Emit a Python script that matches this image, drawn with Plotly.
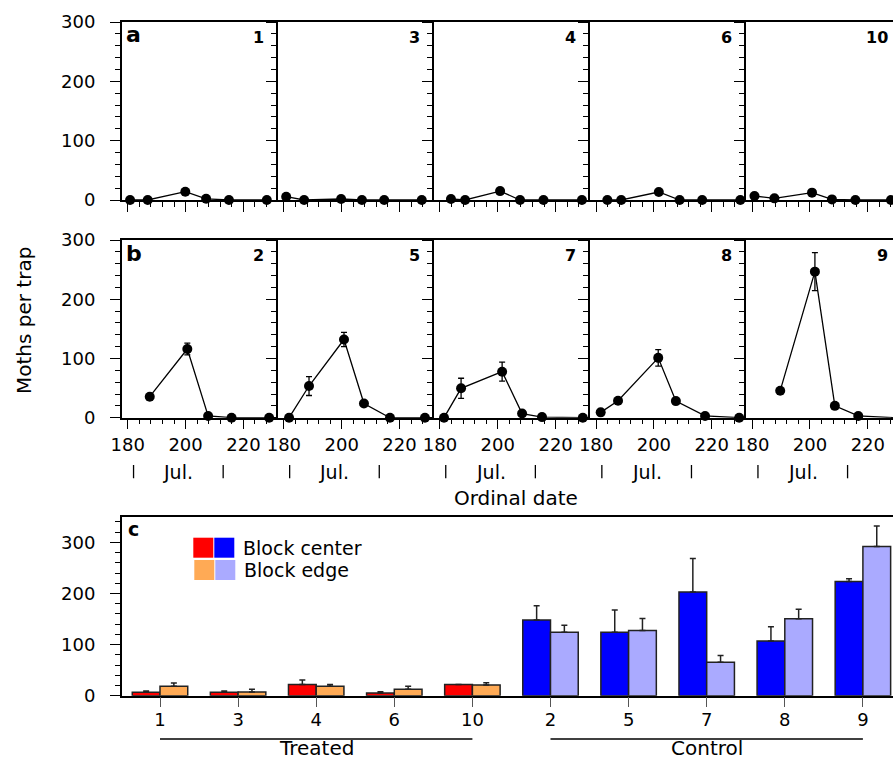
import plotly.graph_objects as go

W, H = 893, 762
FONT = "DejaVu Sans"

# ---------------- data ----------------
# Panel a (treated traps): ordinal dates and moths per trap
traps_a = ["1", "3", "4", "6", "10"]
days_a = {
    "1": [180.8, 186.9, 199.9, 207.1, 215.0, 228.1],
    "3": [180.8, 187.0, 199.8, 207.0, 214.7, 227.7],
    "4": [183.8, 188.7, 200.8, 207.7, 215.8, 229.1],
    "6": [183.9, 188.7, 201.7, 208.9, 216.7, 229.9],
    "10": [180.8, 187.7, 200.7, 207.6, 215.7, 228.0],
}
vals_a = {
    "1": [0, 0, 14, 2, 0, 0],
    "3": [5.6, 0, 1.7, 0, 0, 0],
    "4": [1.7, 0, 15, 0, 0, 0],
    "6": [0, 0, 13.5, 0, 0, 0],
    "10": [6.7, 2.8, 12.4, 1, 0, 0],
}

# Panel b (control traps)
traps_b = ["2", "5", "7", "8", "9"]
days_b = {
    "2": [187.6, 200.6, 207.8, 215.9, 228.9],
    "5": [181.8, 188.7, 200.8, 207.7, 216.7, 228.8],
    "7": [181.4, 187.3, 201.5, 208.4, 215.3, 229.4],
    "8": [181.6, 187.6, 201.5, 207.6, 217.7, 229.5],
    "9": [189.7, 201.7, 208.6, 216.7, 229.0],
}
vals_b = {
    "2": [35.5, 116, 3, 0, 0],
    "5": [0, 53.5, 132, 24, 0, 0],
    "7": [0, 49.6, 77.7, 7, 1, 0],
    "8": [9, 28.7, 101, 28, 3, 0],
    "9": [45.6, 246.6, 20, 3, 0],
}
errs_b = {
    "2": [0, 10, 0, 0, 0],
    "5": [0, 16, 12, 0, 0, 0],
    "7": [0, 17, 16, 0, 0, 0],
    "8": [0, 0, 14, 0, 0, 0],
    "9": [0, 32, 0, 0, 0],
}

# Panel c: season totals per trap
cats_c = ["1", "3", "4", "6", "10", "2", "5", "7", "8", "9"]
groups_c = ["Treated"] * 5 + ["Control"] * 5
center_c = [6.6, 6.6, 22, 5.2, 22, 148, 124, 203, 107, 223.5]
center_err_c = [2.4, 2.4, 8.7, 2.6, 0, 28, 43.5, 65.6, 27.7, 5.3]
edge_c = [18.4, 7.2, 18.4, 12.5, 21, 124, 127.5, 65.4, 150.3, 292]
edge_err_c = [6.6, 5.3, 3.6, 5.9, 4.5, 14, 23.5, 13, 18.7, 40]

month_label = "Jul."
month_bounds = [182, 213]

# ---------------- styling / layout helpers ----------------
COL_CENTER = {"Treated": "#FF0000", "Control": "#0000FF"}
COL_EDGE = {"Treated": "#FFAA55", "Control": "#AAAAFF"}


def X(px):
    return px / W


def Y(py):
    return 1 - py / H


P_LEFT = 121.7
P_W = 156.1
PX_PER_DAY = 2.891
X0 = 177.9

rows = [
    dict(traps=traps_a, days=days_a, vals=vals_a, errs=None, top=22, bottom=200, letter="a"),
    dict(traps=traps_b, days=days_b, vals=vals_b, errs=errs_b, top=240, bottom=417.7, letter="b"),
]

fig = go.Figure()
layout = dict(
    width=W, height=H, autosize=False,
    margin=dict(l=0, r=0, t=0, b=0, pad=0, autoexpand=False),
    paper_bgcolor="white", plot_bgcolor="white",
    showlegend=False,
    font=dict(family=FONT, size=18, color="black"),
    barmode="group", bargap=0.29, bargroupgap=0,
)
annotations = []
shapes = []

idx = 0
for r, row in enumerate(rows):
    for k, t in enumerate(row["traps"]):
        idx += 1
        xa = "x" if idx == 1 else f"x{idx}"
        ya = "y" if idx == 1 else f"y{idx}"
        left = P_LEFT + P_W * k
        right = left + P_W
        right_vis = min(right, W)
        x1 = X0 + (right_vis - left) / PX_PER_DAY
        err = row["errs"][t] if row["errs"] else None
        fig.add_trace(go.Scatter(
            x=row["days"][t], y=row["vals"][t], xaxis=xa, yaxis=ya,
            mode="lines+markers", cliponaxis=False,
            line=dict(color="black", width=1.3),
            marker=dict(color="black", size=10),
            error_y=(dict(type="data", array=err, visible=True, color="black",
                          thickness=1.3, width=3) if err else None),
        ))
        layout[f"xaxis{idx}"] = dict(
            domain=[X(left), X(right_vis)], range=[X0, x1], anchor=ya,
            showline=True, linecolor="black", linewidth=1.5, mirror=True,
            showgrid=False, zeroline=False,
            ticks="outside", ticklen=10, tickwidth=1, tickcolor="black",
            tick0=180, dtick=20,
            minor=dict(ticks="outside", ticklen=5, dtick=4, tickwidth=1, tickcolor="black"),
            showticklabels=(r == 1), tickfont=dict(size=18), ticklabelstandoff=0,
        )
        layout[f"yaxis{idx}"] = dict(
            domain=[Y(row["bottom"]), Y(row["top"])], range=[0, 300], anchor=xa,
            showline=True, linecolor="black", linewidth=1.5, mirror=False,
            showgrid=False, zeroline=False,
            ticks="outside", ticklen=10, tickwidth=1, tickcolor="black",
            dtick=100, minor=dict(ticks="outside", ticklen=5, dtick=20, tickwidth=1, tickcolor="black"),
            showticklabels=(k == 0), tickfont=dict(size=18), ticklabelstandoff=11,
        )
        # trap number
        annotations.append(dict(
            text=f"<b>{t}</b>", xref="paper", yref="paper",
            x=X(min(right - 12, W - 1)), y=Y(row["top"] + 15.5), xanchor="right", yanchor="middle",
            showarrow=False, font=dict(size=16),
        ))
        if r == 1:
            for b in month_bounds:
                shapes.append(dict(type="line", xref=xa, yref="paper", x0=b, x1=b,
                                   y0=Y(465), y1=Y(478.3), line=dict(color="black", width=1.3)))
            annotations.append(dict(
                text=month_label, xref=xa, yref="paper", x=sum(month_bounds) / 2,
                y=Y(472.3), xanchor="center", yanchor="middle", showarrow=False,
                font=dict(size=19),
            ))
    annotations.append(dict(
        text=f"<b>{row['letter']}</b>", xref="paper", yref="paper",
        x=X(124), y=Y(row["top"] + 13), xanchor="left", yanchor="middle",
        showarrow=False, font=dict(size=22),
    ))

# ---------------- panel c ----------------
idx += 1
xc = f"x{idx}"
yc = f"y{idx}"
xpos = list(range(len(cats_c)))
fig.add_trace(go.Bar(
    x=xpos, y=center_c, xaxis=xc, yaxis=yc, offsetgroup="center",
    marker=dict(color=[COL_CENTER[g] for g in groups_c], line=dict(color="#222222", width=1.5)),
    error_y=dict(type="data", symmetric=False, array=center_err_c,
                 arrayminus=[0] * len(cats_c), color="#222222", thickness=1.5, width=3),
))
fig.add_trace(go.Bar(
    x=xpos, y=edge_c, xaxis=xc, yaxis=yc, offsetgroup="edge",
    marker=dict(color=[COL_EDGE[g] for g in groups_c], line=dict(color="#222222", width=1.5)),
    error_y=dict(type="data", symmetric=False, array=edge_err_c,
                 arrayminus=[0] * len(cats_c), color="#222222", thickness=1.5, width=3),
))
C_TOP, C_BOT = 517.3, 695.7
C_SP = 78.1
C_C0 = 160.0
layout[f"xaxis{idx}"] = dict(
    domain=[X(P_LEFT), 1.0], range=[(P_LEFT - C_C0) / C_SP, (W - C_C0) / C_SP], anchor=yc,
    showline=True, linecolor="black", linewidth=1.5, mirror=True,
    showgrid=False, zeroline=False,
    tickmode="array", tickvals=xpos, ticktext=cats_c,
    ticks="outside", ticklen=10, tickwidth=1, tickcolor="#555555",
    tickfont=dict(size=18), ticklabelstandoff=-3,
)
layout[f"yaxis{idx}"] = dict(
    domain=[Y(C_BOT), Y(C_TOP)], range=[0, 349], anchor=xc,
    showline=True, linecolor="black", linewidth=1.5, mirror=False,
    showgrid=False, zeroline=False,
    ticks="outside", ticklen=10, tickwidth=1, tickcolor="black",
    dtick=100, minor=dict(ticks="outside", ticklen=5, dtick=20, tickwidth=1, tickcolor="black"),
    tickfont=dict(size=18), ticklabelstandoff=11,
)
annotations.append(dict(
    text="<b>c</b>", xref="paper", yref="paper", x=X(126), y=Y(529),
    xanchor="left", yanchor="middle", showarrow=False, font=dict(size=19),
))

# group labels with lines
for g in ["Treated", "Control"]:
    members = [i for i, gg in enumerate(groups_c) if gg == g]
    shapes.append(dict(type="line", xref=xc, yref="paper", x0=members[0], x1=members[-1],
                       y0=Y(739), y1=Y(739), line=dict(color="black", width=1.3)))
    annotations.append(dict(
        text=g, xref=xc, yref="paper", x=(members[0] + members[-1]) / 2, y=Y(762),
        xanchor="center", yanchor="bottom", showarrow=False, font=dict(size=20),
    ))

# legend (manual)
leg = [
    ("Block center", COL_CENTER, 537.7, 557.7, 193.3),
    ("Block edge", COL_EDGE, 560.0, 580.0, 194.3),
]
for label, cols, y0, y1, x0 in leg:
    shapes.append(dict(type="rect", xref="paper", yref="paper", x0=X(x0), x1=X(x0 + 20),
                       y0=Y(y1), y1=Y(y0), fillcolor=cols["Treated"], line=dict(width=0)))
    shapes.append(dict(type="rect", xref="paper", yref="paper", x0=X(x0 + 21), x1=X(x0 + 41),
                       y0=Y(y1), y1=Y(y0), fillcolor=cols["Control"], line=dict(width=0)))
    annotations.append(dict(
        text=label, xref="paper", yref="paper", x=X(x0 + 48), y=Y((y0 + y1) / 2),
        xanchor="left", yanchor="middle", showarrow=False, font=dict(size=19),
    ))

# axis titles
annotations.append(dict(
    text="Moths per trap", xref="paper", yref="paper", x=X(24), y=Y(321),
    xanchor="center", yanchor="middle", textangle=-90, showarrow=False, font=dict(size=20),
))
annotations.append(dict(
    text="Ordinal date", xref="paper", yref="paper", x=X(515.8), y=Y(497.5),
    xanchor="center", yanchor="middle", showarrow=False, font=dict(size=20),
))

layout["annotations"] = annotations
layout["shapes"] = shapes
fig.update_layout(**layout)
fig.write_html(
    "out.html",
    config={"displayModeBar": False},
    post_script="document.body.style.margin='0';document.body.style.overflow='hidden';",
)
